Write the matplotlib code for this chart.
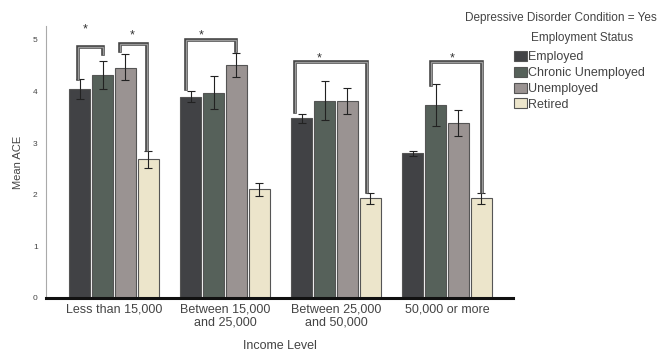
import numpy as np
import matplotlib.pyplot as plt
from matplotlib.patches import Patch

plt.rcParams['font.family'] = ['Liberation Sans', 'DejaVu Sans']

# 数据
income_levels = ['Less than 15,000', 'Between 15,000\nand 25,000',
                 'Between 25,000\nand 50,000', '50,000 or more']
status = ['Employed', 'Chronic Unemployed', 'Unemployed', 'Retired']
colors = ['#414245', '#56615a', '#9a9392', '#ece5cb']

mean_ace = {
    'Employed':           [4.05, 3.90, 3.48, 2.80],
    'Chronic Unemployed': [4.32, 3.98, 3.82, 3.73],
    'Unemployed':         [4.46, 4.51, 3.82, 3.39],
    'Retired':            [2.69, 2.11, 1.93, 1.94],
}
err_low = {
    'Employed':           [3.86, 3.79, 3.40, 2.75],
    'Chronic Unemployed': [4.04, 3.67, 3.44, 3.33],
    'Unemployed':         [4.22, 4.28, 3.57, 3.14],
    'Retired':            [2.52, 1.98, 1.83, 1.83],
}
err_high = {
    'Employed':           [4.24, 4.02, 3.57, 2.85],
    'Chronic Unemployed': [4.60, 4.30, 4.21, 4.14],
    'Unemployed':         [4.72, 4.74, 4.06, 3.64],
    'Retired':            [2.85, 2.23, 2.04, 2.03],
}

# 显著性标注: (组, 左柱, 右柱, 顶部y, 左腿底y, 右腿底y, 左腿偏移, 右腿偏移)
brackets = [
    (0, 0, 1, 4.86, 4.25, 4.73, -0.10, 0.0),
    (0, 2, 3, 4.93, 4.78, 2.87, -0.22, -0.05),
    (1, 0, 2, 5.00, 4.04, 4.78, -0.22, 0.0),
    (2, 0, 3, 4.57, 3.61, 2.06, -0.30, -0.12),
    (3, 1, 3, 4.57, 4.12, 2.06, -0.20, 0.05),
]
# 星号: (组, 相对第一柱的位置(柱宽单位), y)
stars = [(0, 0.23, 5.20), (0, 2.28, 5.09), (1, 0.45, 5.09),
         (2, 0.76, 4.64), (3, 1.74, 4.64)]

fig = plt.figure(figsize=(6.58, 3.52), dpi=100)
ax = fig.add_axes([46 / 658, 1 - 298 / 352, (513 - 46) / 658, 272 / 352])

x = np.arange(len(income_levels))
slot = 0.205
width = 0.19
offsets = (np.arange(4) - 1.5) * slot

for i, s in enumerate(status):
    vals = np.array(mean_ace[s])
    lo = vals - np.array(err_low[s])
    hi = np.array(err_high[s]) - vals
    ax.bar(x + offsets[i], vals, width, color=colors[i], edgecolor='#555555',
           linewidth=0.8, zorder=2)
    ax.errorbar(x + offsets[i], vals, yerr=[lo, hi], fmt='none', ecolor='#222222',
                elinewidth=0.8, capsize=3, capthick=0.8, zorder=3)

for g, b1, b2, top, yl, yr, dl, dr in brackets:
    xl = g + offsets[b1] + dl * slot
    xr = g + offsets[b2] + dr * slot
    xs = [xl, xl, xr, xr]
    ys = [yl, top, top, yr]
    ax.plot(xs, ys, color='#444444', lw=2.6, solid_joinstyle='miter', zorder=4)
    ax.plot(xs, ys, color='#9a9a9a', lw=1.0, solid_joinstyle='miter', zorder=5)

for g, pos, y in stars:
    xs = g + offsets[0] + pos * slot
    ax.text(xs, y, '*', ha='center', va='center', fontsize=9, color='#333333')

ax.set_xlim(-0.613, 3.595)
ax.set_ylim(0, 5.27)
ax.set_yticks([0, 1, 2, 3, 4, 5])
ax.set_xticks(x)
ax.set_xticklabels(income_levels, fontsize=9, color='#444444', linespacing=1.1)
ax.tick_params(axis='y', length=0, labelsize=6, labelcolor='#444444', pad=6)
ax.tick_params(axis='x', length=0, pad=4)
for sp in ['top', 'right']:
    ax.spines[sp].set_visible(False)
ax.spines['left'].set_color('#aaaaaa')
ax.spines['left'].set_linewidth(0.8)
ax.spines['bottom'].set_color('#111111')
ax.spines['bottom'].set_linewidth(2.2)
ax.set_xlabel('Income Level', fontsize=9, color='#444444', labelpad=8)
ax.set_ylabel('Mean ACE', fontsize=8, color='#444444', labelpad=7)

fig.text(657 / 658, 1 - 18 / 352, 'Depressive Disorder Condition = Yes',
         ha='right', va='center', fontsize=8.5, color='#444444')
fig.text(582 / 658, 1 - 38 / 352, 'Employment Status',
         ha='center', va='center', fontsize=8.5, color='#444444')
handles = [Patch(facecolor=c, edgecolor='#555555', linewidth=0.8) for c in colors]
leg = fig.legend(handles, status, loc='upper left',
                 bbox_to_anchor=(514 / 658, 1 - 51 / 352), frameon=False,
                 fontsize=9, handlelength=1.0, handleheight=0.85, handletextpad=0.15,
                 labelspacing=0.28, borderpad=0, borderaxespad=0)
for t in leg.get_texts():
    t.set_color('#444444')

fig.savefig('out.png', dpi=100)
